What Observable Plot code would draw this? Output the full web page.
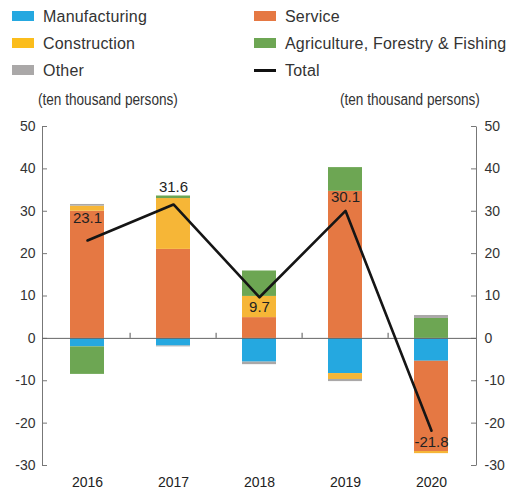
<!DOCTYPE html>
<html>
<head>
<meta charset="utf-8">
<script src="https://cdn.jsdelivr.net/npm/d3@7"></script>
<script src="https://cdn.jsdelivr.net/npm/@observablehq/plot@0.6"></script>
<style>
  html, body { margin: 0; padding: 0; background: #fff; }
  body { width: 509px; height: 496px; position: relative; overflow: hidden; font-family: "Liberation Sans", Arial, sans-serif; color: #333; }
  .leg { position: absolute; font-size: 16px; letter-spacing: 0.2px; line-height: 20px; white-space: nowrap; }
  .sw { position: absolute; width: 22px; height: 10px; }
  .unit { position: absolute; font-size: 16px; white-space: nowrap; transform: scaleX(0.85); transform-origin: left center; line-height: 18px; }
  #chart { position: absolute; left: 0; top: 110px; }
</style>
</head>
<body>
<div id="legend"></div>
<div class="unit" style="left:38px; top:91px;">(ten thousand persons)</div>
<div class="unit" style="left:340px; top:91px;">(ten thousand persons)</div>
<div id="chart"></div>
<script>
const years = ["2016", "2017", "2018", "2019", "2020"];
const series = ["Manufacturing", "Service", "Construction", "Agriculture, Forestry & Fishing", "Other"];
const colors = ["#25a8e0", "#e57843", "#f6b637", "#6da653", "#aaa8a8"];
const manufacturing = [-2.0, -1.8, -5.6, -8.3, -5.4];
const service = [30.0, 21.0, 4.9, 34.7, -21.3];
const construction = [1.2, 12.0, 5.0, -1.4, -0.5];
const agriculture = [-6.5, 0.6, 6.0, 5.6, 4.7];
const other = [0.4, -0.2, -0.6, -0.5, 0.7];
const total = [23.1, 31.6, 9.7, 30.1, -21.8];
const yTicks = [-30, -20, -10, 0, 10, 20, 30, 40, 50];

// legend (HTML, above the SVG)
const legendItems = [
  {name: "Manufacturing", color: colors[0], col: 0, row: 0},
  {name: "Service", color: colors[1], col: 1, row: 0},
  {name: "Construction", color: "#fbbd1c", col: 0, row: 1},
  {name: "Agriculture, Forestry & Fishing", color: colors[3], col: 1, row: 1},
  {name: "Other", color: colors[4], col: 0, row: 2},
  {name: "Total", line: true, col: 1, row: 2}
];
const legend = document.getElementById("legend");
for (const it of legendItems) {
  const x0 = it.col === 0 ? 12 : 254;
  const yc = 16 + it.row * 27;
  const sw = document.createElement("div");
  sw.className = "sw";
  sw.style.left = x0 + "px";
  if (it.line) {
    sw.style.top = (yc - 1) + "px";
    sw.style.height = "3px";
    sw.style.background = "#111";
  } else {
    sw.style.top = (yc - 5) + "px";
    sw.style.background = it.color;
  }
  legend.appendChild(sw);
  const t = document.createElement("div");
  t.className = "leg";
  t.style.left = (x0 + 31) + "px";
  t.style.top = (yc - 9) + "px";
  t.textContent = it.name;
  legend.appendChild(t);
}

const valuesBySeries = [manufacturing, service, construction, agriculture, other];
const rows = [];
years.forEach((yr, i) => {
  series.forEach((s, j) => rows.push({year: yr, series: s, value: valuesBySeries[j][i]}));
});
const totals = years.map((yr, i) => ({year: yr, value: total[i]}));

const W = 509, H = 386, mL = 42, mR = 33, mT = 16, mB = 31;
const fw = W - mL - mR, fh = H - mT - mB;
const step = fw / years.length;
const labelDy = {"2016": -22, "2017": -17, "2018": 10, "2019": -14, "2020": 11};
const fmt = d => String(d);

const plot = Plot.plot({
  width: W, height: H,
  marginLeft: mL, marginRight: mR, marginTop: mT, marginBottom: mB,
  style: {fontFamily: "Liberation Sans, Arial, sans-serif", fontSize: "14px", color: "#333", background: "transparent"},
  x: {domain: years, paddingInner: 0.6, paddingOuter: 0.3, label: null},
  y: {domain: [-30, 50], label: null},
  color: {domain: series, range: colors},
  marks: [
    Plot.frame({stroke: "#777", strokeDasharray: `0 ${fw} ${fh} ${fw} ${fh}`}),
    Plot.ruleY(yTicks, {stroke: "#777", insetRight: fw - 5}),
    Plot.ruleY(yTicks, {stroke: "#777", insetLeft: fw - 5}),
    Plot.barY(rows, {x: "year", y: "value", fill: "series"}),
    Plot.ruleY([0], {stroke: "#666"}),
    Plot.ruleX(years.slice(1), {x: d => d, dx: -step / 2, y1: 0, y2: 1.2, stroke: "#555"}),
    Plot.line(totals, {x: "year", y: "value", stroke: "#151515", strokeWidth: 2.6}),
    ...totals.map(d => Plot.text([d], {x: "year", y: "value", text: d => d.value.toFixed(1), dy: labelDy[d.year], fill: "#222", fontSize: 15})),
    Plot.axisY({anchor: "left", ticks: yTicks, tickFormat: fmt, tickSize: 0, tickPadding: 7, label: null, fill: "#333"}),
    Plot.axisY({anchor: "right", ticks: yTicks, tickFormat: fmt, tickSize: 0, tickPadding: 8, label: null, fill: "#333"}),
    Plot.axisX({tickSize: 0, tickPadding: 12, label: null, fill: "#222"})
  ]
});
document.getElementById("chart").appendChild(plot);
</script>
</body>
</html>
